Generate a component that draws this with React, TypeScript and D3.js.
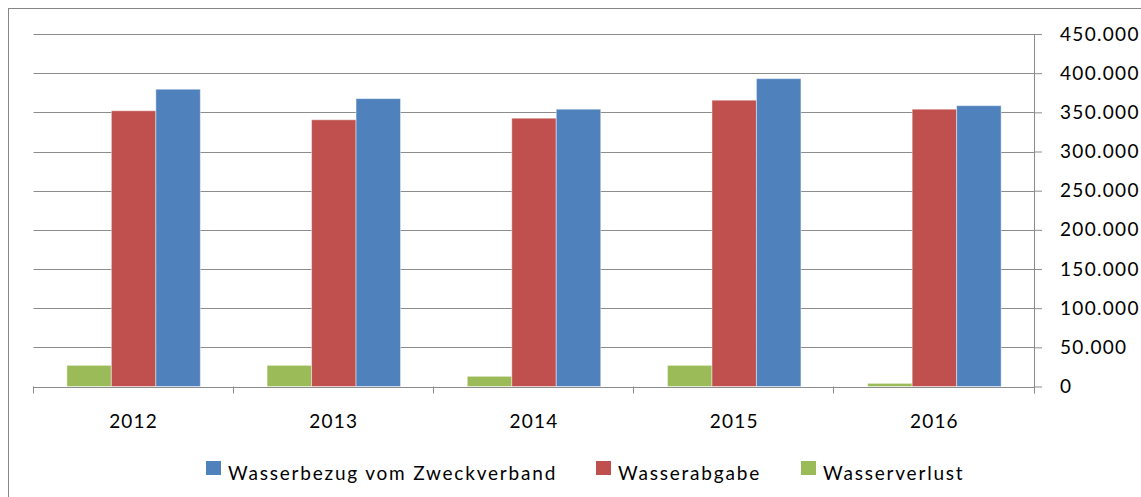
import React, { useEffect, useRef } from "react";
import * as d3 from "d3";

const years = ["2012", "2013", "2014", "2015", "2016"];
const bezug = [379500, 367500, 354000, 393000, 358500];
const abgabe = [352000, 340500, 342500, 365500, 354000];
const verlust = [27000, 27000, 13000, 27000, 4000];
const yTicks = [0, 50000, 100000, 150000, 200000, 250000, 300000, 350000, 400000, 450000];

// bar order inside a group (left to right)
const series = [
  { name: "Wasserverlust", values: verlust, color: "#9BBB59" },
  { name: "Wasserabgabe", values: abgabe, color: "#C0504D" },
  { name: "Wasserbezug vom Zweckverband", values: bezug, color: "#4F81BD" },
];
// legend order
const legendItems = [
  { name: "Wasserbezug vom Zweckverband", color: "#4F81BD", x: 206 },
  { name: "Wasserabgabe", color: "#C0504D", x: 596 },
  { name: "Wasserverlust", color: "#9BBB59", x: 801 },
];

const sizes = { width: 1141, height: 497 };
const plot = { left: 33.5, right: 1034.5, top: 34, bottom: 386.5 };
const font = "Lato, 'Open Sans', sans-serif";

const de = d3.formatLocale({ decimal: ",", thousands: ".", grouping: [3], currency: ["", " €"] });
const fmt = de.format(",d");

const x = d3.scaleBand().domain(years).range([plot.left, plot.right]).padding(0);
const xInner = d3.scaleBand()
  .domain(series.map((s) => s.name))
  .range([0, x.bandwidth()])
  .paddingInner(0)
  .paddingOuter(0.75);
const y = d3.scaleLinear().domain([0, 450000]).range([plot.bottom, plot.top]);

export default function App() {
  const ref = useRef<SVGSVGElement>(null);

  useEffect(() => {
    const svg = d3.select(ref.current);
    svg.selectAll("*").remove();

    // outer frame
    svg.append("rect")
      .attr("x", 8.5).attr("y", 8.5)
      .attr("width", sizes.width + 10).attr("height", sizes.height + 10)
      .attr("fill", "white").attr("stroke", "#868686").attr("stroke-width", 1);

    // gridlines
    svg.append("g")
      .selectAll("line")
      .data(yTicks)
      .join("line")
      .attr("x1", plot.left).attr("x2", plot.right)
      .attr("y1", (d) => Math.round(y(d)) + 0.5).attr("y2", (d) => Math.round(y(d)) + 0.5)
      .attr("stroke", "#8c8c8c");

    // bars
    series.forEach((s) => {
      svg.append("g")
        .selectAll("rect")
        .data(s.values)
        .join("rect")
        .attr("x", (d, i) => x(years[i])! + xInner(s.name)!)
        .attr("y", (d) => y(d))
        .attr("width", xInner.bandwidth())
        .attr("height", (d) => y(0) - y(d))
        .attr("fill", s.color)
        .attr("stroke", "rgba(255,255,255,0.45)")
        .attr("stroke-width", 1);
    });

    // x axis line + ticks at category boundaries
    const gx = svg.append("g").attr("stroke", "#8c8c8c");
    gx.append("line")
      .attr("x1", plot.left).attr("x2", plot.right)
      .attr("y1", Math.round(y(0)) + 0.5).attr("y2", Math.round(y(0)) + 0.5);
    gx.selectAll("line.tick")
      .data(d3.range(years.length + 1))
      .join("line")
      .attr("class", "tick")
      .attr("x1", (i) => Math.round(plot.left + i * x.step()) - 0.5)
      .attr("x2", (i) => Math.round(plot.left + i * x.step()) - 0.5)
      .attr("y1", y(0)).attr("y2", y(0) + 7);

    svg.append("g")
      .selectAll("text")
      .data(years)
      .join("text")
      .attr("x", (d) => x(d)! + x.bandwidth() / 2)
      .attr("y", 428)
      .attr("text-anchor", "middle")
      .attr("font-family", font)
      .attr("font-size", 19)
      .attr("letter-spacing", 1.2)
      .attr("fill", "#000")
      .text((d) => d);

    // right y axis
    const gy = svg.append("g")
      .attr("transform", `translate(${plot.right - 0.5},0)`)
      .call(d3.axisRight(y).tickValues(yTicks).tickFormat((d) => fmt(d as number)).tickSize(8).tickPadding(18));
    gy.select(".domain").attr("stroke", "#8c8c8c").attr("d", `M0.5,${plot.top}V${y(0) + 7}`);
    gy.selectAll(".tick line").attr("stroke", "#8c8c8c");
    gy.selectAll(".tick text")
      .attr("font-family", font)
      .attr("font-size", 19)
      .attr("letter-spacing", 1.3)
      .attr("fill", "#000")
      .attr("text-anchor", "start");

    // legend
    const lg = svg.append("g")
      .selectAll("g")
      .data(legendItems)
      .join("g")
      .attr("transform", (d) => `translate(${d.x},461)`);
    lg.append("rect").attr("width", 15).attr("height", 14).attr("fill", (d) => d.color);
    lg.append("text")
      .attr("x", 22).attr("y", 19)
      .attr("font-family", font)
      .attr("font-size", 19)
      .attr("letter-spacing", 1.8)
      .attr("fill", "#000")
      .text((d) => d.name);
  }, []);

  return (
    <svg
      ref={ref}
      width={sizes.width}
      height={sizes.height}
      style={{ position: "absolute", left: 0, top: 0, display: "block", overflow: "hidden" }}
    ></svg>
  );
}
